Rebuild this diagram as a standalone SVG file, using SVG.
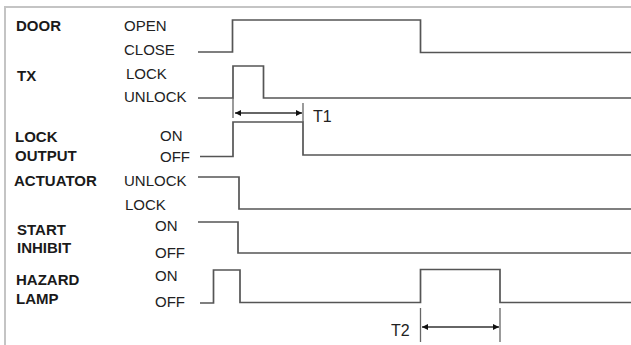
<svg xmlns="http://www.w3.org/2000/svg" width="631" height="345" viewBox="0 0 631 345">
<style>
.frame{fill:none;stroke:#c4c4c4;stroke-width:2}
.name{font-family:"Liberation Sans",Arial,sans-serif;font-size:15px;font-weight:bold;fill:#1a1a1a}
.state{font-family:"Liberation Sans",Arial,sans-serif;font-size:15px;fill:#222}
.tlab{font-family:"Liberation Sans",Arial,sans-serif;font-size:16px;fill:#222}
.wave{fill:none;stroke:#555;stroke-width:1.7}
.dim{fill:none;stroke:#333;stroke-width:1.5}
.tick{fill:none;stroke:#666;stroke-width:1.3}
</style>
<defs>
<marker id="ah" viewBox="0 0 10 10" refX="10" refY="5" markerWidth="9" markerHeight="6" markerUnits="userSpaceOnUse" orient="auto-start-reverse">
<path d="M0,0 L10,5 L0,10 Z" fill="#111"/>
</marker>
</defs>
<rect width="631" height="345" fill="#fff"/>
<path class="frame" d="M5,346 V7 H632"/>
<g id="door">
<text class="name" x="16" y="31">DOOR</text>
<text class="state" x="124" y="31">OPEN</text>
<text class="state" x="124" y="55">CLOSE</text>
</g>
<g id="tx">
<text class="name" x="17" y="81">TX</text>
<text class="state" x="126" y="79">LOCK</text>
<text class="state" x="124" y="102">UNLOCK</text>
</g>
<g id="lock-output">
<text class="name" x="15" y="142">LOCK</text>
<text class="name" x="15" y="161">OUTPUT</text>
<text class="state" x="160" y="141">ON</text>
<text class="state" x="160" y="162">OFF</text>
</g>
<g id="actuator">
<text class="name" x="14" y="186">ACTUATOR</text>
<text class="state" x="124" y="186">UNLOCK</text>
<text class="state" x="125" y="210">LOCK</text>
</g>
<g id="start-inhibit">
<text class="name" x="17" y="235">START</text>
<text class="name" x="17" y="253">INHIBIT</text>
<text class="state" x="155" y="231">ON</text>
<text class="state" x="155" y="258">OFF</text>
</g>
<g id="hazard-lamp">
<text class="name" x="16" y="285">HAZARD</text>
<text class="name" x="16" y="304">LAMP</text>
<text class="state" x="155" y="281">ON</text>
<text class="state" x="155" y="307">OFF</text>
</g>
<g id="connectors">
<path class="wave" d="M198,52 H232.5 V20 H420.5 V52.5 H631"/>
<path class="wave" d="M198,98 H233 V66 H263.5 V98 H631"/>
<path class="wave" d="M200,156.5 H233 V122 H303 V155 H631"/>
<path class="wave" d="M198,177 H239 V209 H631"/>
<path class="wave" d="M198,222 H238 V253 H631"/>
<path class="wave" d="M200,303 H213.5 V270 H240 V302.5 H420.5 V269.5 H500 V302.5 H631"/>
<path class="tick" d="M233,98 V118 M303,103 V122"/>
<line class="dim" x1="235" y1="113" x2="302" y2="113" marker-start="url(#ah)" marker-end="url(#ah)"/>
<text class="tlab" x="313" y="122">T1</text>
<path class="tick" d="M420.5,308 V342 M500,308 V342"/>
<line class="dim" x1="422" y1="327" x2="499" y2="327" marker-start="url(#ah)" marker-end="url(#ah)"/>
<text class="tlab" x="391" y="336">T2</text>
</g>
</svg>
